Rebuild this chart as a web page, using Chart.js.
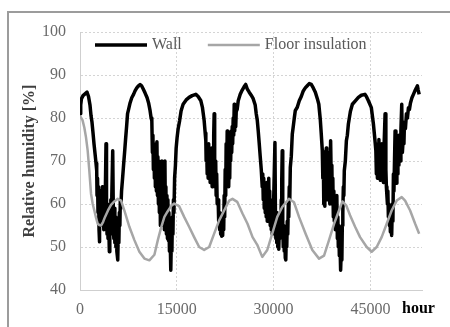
<!DOCTYPE html>
<html>
<head>
<meta charset="utf-8">
<title>Relative humidity</title>
<script src="https://cdn.jsdelivr.net/npm/chart.js@4.4.1/dist/chart.umd.min.js"></script>
<style>
  html, body { margin: 0; padding: 0; background: #fff; }
  canvas { display: block; }
</style>
</head>
<body>
<canvas id="rhChart" width="450" height="327"></canvas>
<script>
// simulated hourly relative humidity, 6 years
const wallHours = [
  0, 110, 230, 470, 780, 1090, 1320, 1550, 1710, 1860, 2020, 2170, 2330, 2480, 2590,
  2640, 2720, 2790, 2870, 2950, 2990, 3070, 3150, 3230, 3310, 3380, 3460, 3540, 3620, 3690,
  3770, 3850, 3930, 4030, 4110, 4190, 4270, 4340, 4420, 4550, 4620, 4700, 4780, 4860, 4930,
  5070, 5170, 5240, 5320, 5400, 5480, 5560, 5630, 5710, 5850, 5940, 6020, 6100, 6180, 6250,
  6330, 6440, 6600, 6750, 6910, 7060, 7220, 7370, 7530, 7760, 8020, 8300, 8530, 8800, 9080,
  9310, 9540, 9780, 10090, 10400, 10630, 10860, 11020, 11130,
  11220, 11300, 11370, 11450, 11530, 11610, 11680, 11760, 11840, 11920, 12000, 12070, 12150,
  12230, 12300, 12380, 12460, 12540, 12620, 12690, 12770, 12850, 12930, 13000, 13080, 13160,
  13240, 13310, 13390, 13470, 13550, 13620, 13700, 13780, 13860, 13930, 14070, 14170, 14240,
  14320, 14400, 14480, 14560, 14660, 14790, 14900, 15050, 15210, 15440, 15670, 15980, 16450,
  16910, 17380, 17950, 18310, 18730, 18980, 19240, 19400, 19500,
  19550, 19630, 19710, 19780, 19860, 19940, 20020, 20090, 20170, 20250, 20330, 20400, 20480,
  20560, 20640, 20720, 20790, 20870, 20950, 21030, 21100, 21180, 21260, 21410, 21490, 21570,
  21650, 21720, 21800, 21880, 21960, 22030, 22110, 22190, 22270, 22340, 22420, 22500, 22580,
  22650, 22730, 22810, 22890, 22970, 23040, 23120, 23200, 23280, 23350, 23430, 23510, 23590,
  23660, 23740, 23820, 23900, 23970, 24050, 24130, 24210, 24360, 24520, 24830, 25140, 25450,
  25680, 25910, 26220, 26530, 26840, 27150, 27310, 27470, 27620, 27780, 27930, 28090, 28240,
  28320, 28400, 28470, 28550, 28630, 28710, 28780, 28860, 28940, 29020, 29090, 29170, 29250,
  29330, 29400, 29480, 29560, 29640, 29720, 29790, 29870, 29950, 30030, 30210, 30290, 30350,
  30410, 30490, 30570, 30650, 30720, 30800, 30880, 30960, 31030, 31110, 31190, 31270, 31340,
  31420, 31500, 31580, 31650, 31730, 31810, 31890, 31960, 32040, 32120, 32200, 32280, 32350,
  32430, 32510, 32590, 32740, 32900, 33050, 33210, 33360, 33670, 33980, 34290, 34600, 34910,
  35220, 35530, 35840, 36150, 36470, 36780, 37010, 37240, 37400, 37550,
  37630, 37710, 37780, 37860, 37940, 38020, 38090, 38170, 38250, 38330, 38400, 38480, 38560,
  38640, 38710, 38840, 38950, 39030, 39100, 39180, 39260, 39340, 39410, 39490, 39570, 39650,
  39720, 39800, 39880, 39960, 40030, 40110, 40190, 40270, 40390, 40500, 40580, 40650, 40730,
  40810, 40890, 40960, 41120, 41280, 41430, 41590, 41740, 41900, 42210, 42670, 43140, 43600,
  44150, 44380, 44690, 45150, 45470, 45700, 45850,
  45930, 46010, 46090, 46160, 46240, 46320, 46400, 46470, 46550, 46630, 46710, 46780, 46860,
  46940, 47020, 47090, 47280, 47400, 47480, 47560, 47640, 47710, 47790, 47870, 47950, 48030,
  48100, 48180, 48300, 48410, 48490, 48570, 48650, 48830, 48960, 49030, 49110, 49190, 49270,
  49340, 49420, 49500, 49580, 49650, 49730, 49860, 49960, 50120, 50200, 50280, 50430, 50590,
  50740, 50900, 51050, 51210, 51440, 51670, 51900, 52140, 52290, 52410, 52560
];
const wallRH = [
  81, 83, 84.5, 85.2, 85.6, 86, 85, 83, 80.5, 79, 76.5, 74, 71.7, 69.5, 67.8,
  62, 66, 58, 64, 54, 51.2, 60, 63, 55, 61, 57, 64, 56, 62, 54,
  60, 57, 63, 74, 58, 53, 60, 52, 58, 48.9, 57, 53, 61, 55, 62,
  72.4, 57, 52, 59, 51, 57, 50, 56, 49, 47, 54, 51, 58, 55, 61,
  59, 63, 66, 69, 72, 75, 78, 81, 82, 83.5, 84.7, 85.5, 86.3, 87, 87.5,
  87.8, 87.5, 86.8, 85.8, 84.7, 83.5, 81.7, 80, 79.4,
  72, 76, 68, 74, 66, 73, 64, 72, 63, 74.5, 62, 71, 60,
  70, 58, 68, 55, 66, 58, 70, 57, 67, 55, 65, 54, 70,
  55, 64, 53, 62, 52, 61, 51.5, 58, 49, 55, 44.6, 53, 49,
  57, 53, 61, 58, 66, 69, 73, 75.5, 77.5, 79.4, 81.7, 83.2, 84.2,
  84.8, 85.2, 85.5, 85, 84, 82.4, 79.4, 76.5, 74.7,
  70, 73, 67, 72, 66, 74, 67, 72, 65, 71, 66, 73, 64,
  70, 66, 76, 81, 68, 64, 70, 62, 67, 60, 61, 56, 58,
  54, 57, 53, 56, 52.5, 55.5, 52.7, 58, 54, 62, 57, 68, 62,
  74, 66, 77, 68, 73, 64, 70, 66, 75, 70, 77, 72, 78,
  74, 80, 76, 83.2, 77, 80, 78, 81.5, 82, 84, 85.5, 86.5, 87.3,
  87.8, 86.8, 86, 85.3, 84.5, 83, 81, 79.5, 77, 74, 71, 68, 64,
  67, 61, 66, 59, 64, 58, 63, 57, 65, 56, 62, 58, 66,
  57, 63, 55, 61, 54, 60, 53, 59, 54, 62, 74.3, 57, 52,
  58, 51, 56, 50, 55, 49.5, 54, 52, 58, 53, 61, 66, 72.4,
  55, 50, 55, 49, 53, 47.5, 47, 52, 50, 56, 53, 60, 57,
  64, 61, 68.5, 71, 76.3, 78, 80, 81.7, 82.5, 84, 85, 86.3, 87,
  87.5, 88, 87.8, 87, 86, 84.5, 83.2, 79.6, 76, 72.4,
  66, 70, 60, 68, 59.5, 71, 62, 73, 64, 70, 61, 72, 63,
  69, 60, 74.7, 64, 69, 60, 66, 57, 63, 56, 61, 54, 59,
  55, 62, 52, 57, 50, 55, 48, 52, 44.6, 50, 47, 55, 58,
  64, 62, 67.8, 70, 74.7, 76, 78.6, 80, 81.5, 83.2, 84, 84.8, 85.3,
  85.5, 85, 84, 82.4, 78.6, 75, 72.4,
  67, 73, 66, 74, 68, 75, 66, 72, 65.5, 73, 67, 74, 66,
  71, 65, 72, 81, 68, 64, 62, 60, 63, 57, 60, 55, 58,
  53.5, 56, 52.7, 60, 56, 67, 63, 77, 66, 64.8, 70, 67, 73,
  69, 76, 71, 74, 70, 77, 83.2, 72, 76, 74, 79, 77.5, 81,
  80, 82.4, 82, 83.5, 84.7, 85.5, 86.3, 87, 87.5, 86.5, 85.5
];
const floorHours = [
  0, 160, 390, 670, 930, 1190, 1440, 1710, 1970, 2220, 2480, 2750, 2990, 3260, 3570,
  3880, 4340, 4810, 5320, 5850, 6360, 6870, 7650, 8430, 9200, 9980, 10750, 11530, 12060,
  12570, 13080, 13550, 14120, 14590, 15360, 16140, 16910, 17690, 18470, 19240, 20020, 20790,
  21570, 22340, 23120, 23630, 24360, 25180, 25960, 26740, 27470, 28240, 29020, 29790, 30570,
  31340, 32380, 33160, 33940, 34960, 36000, 37040, 37820, 38590, 39370, 40140, 40660, 41280,
  41850, 42630, 43400, 44430, 45200, 45980, 46750, 47530, 48300, 49080, 49860, 50380, 51160,
  51940, 52560
];
const floorRH = [
  80.5, 80.1, 79.5, 77.8, 75.5, 72.4, 67.8, 62.4, 60, 58.5, 56.8, 55.4, 55.1, 55, 55.8,
  57, 58.5, 59.8, 60.6, 61.2, 60.8, 58.5, 54.7, 51.6, 48.9, 47.3, 46.9, 48.2, 51.6,
  54.5, 57, 58.2, 59.5, 60.1, 59.5, 57, 54.7, 52.3, 50, 49.3, 50, 53.1,
  56.2, 58.5, 60.8, 61.2, 60.5, 57.8, 55.4, 52.3, 50.5, 47.7, 49.3, 53.1, 57,
  59.3, 61.2, 60.4, 57, 53.1, 49.3, 47.3, 48, 51.6, 55.4, 58.5, 60.6, 59.6,
  57.4, 54.7, 52.3, 50, 48.9, 50, 52.3, 55.4, 58.5, 60.8, 61.6, 60.8, 58.5,
  55.4, 53.1
];
const xTicks = [0, 15000, 30000, 45000];
const yTicks = [40, 50, 60, 70, 80, 90, 100];

const serif = '"Liberation Serif", "Times New Roman", serif';
Chart.defaults.font.family = serif;

function toPoints(hours, values) {
  return hours.map((h, i) => ({ x: h, y: values[i] }));
}

// outer frame of the figure (left and top edges only)
const framePlugin = {
  id: 'frame',
  beforeDraw(chart) {
    const { ctx, width, height } = chart;
    ctx.save();
    ctx.strokeStyle = '#9c9c9c';
    ctx.lineWidth = 2;
    ctx.beginPath();
    ctx.moveTo(8, height);
    ctx.lineTo(8, 12);
    ctx.lineTo(width, 12);
    ctx.stroke();
    ctx.restore();
  }
};

// legend drawn inside the plot, top left
const innerLegend = {
  id: 'innerLegend',
  afterDatasetsDraw(chart) {
    const { ctx, chartArea } = chart;
    let x = chartArea.left + 15;
    const y = chartArea.top + 13;
    ctx.save();
    ctx.font = '16px ' + serif;
    ctx.textBaseline = 'middle';
    chart.data.datasets.forEach(ds => {
      ctx.strokeStyle = ds.borderColor;
      ctx.lineWidth = ds.borderWidth;
      ctx.beginPath();
      ctx.moveTo(x, y);
      ctx.lineTo(x + 52, y);
      ctx.stroke();
      ctx.fillStyle = '#595959';
      ctx.fillText(ds.label, x + 57, y);
      x += 57 + ctx.measureText(ds.label).width + 26;
    });
    ctx.restore();
  }
};

// unit label at the end of the x axis
const hourLabel = {
  id: 'hourLabel',
  afterDraw(chart) {
    const { ctx, chartArea } = chart;
    ctx.save();
    ctx.font = 'bold 16px ' + serif;
    ctx.fillStyle = '#000';
    ctx.textBaseline = 'middle';
    ctx.fillText('hour', chartArea.right - 20, chartArea.bottom + 19);
    ctx.restore();
  }
};

const ctx = document.getElementById('rhChart').getContext('2d');
const rhChart = new Chart(ctx, {
  type: 'line',
  data: {
    datasets: [
      {
        label: 'Wall',
        data: toPoints(wallHours, wallRH),
        borderColor: '#000000',
        borderWidth: 3.5,
        borderJoinStyle: 'round',
        pointRadius: 0,
        tension: 0,
        order: 1
      },
      {
        label: 'Floor insulation',
        data: toPoints(floorHours, floorRH),
        borderColor: '#a6a6a6',
        borderWidth: 2.5,
        borderJoinStyle: 'round',
        pointRadius: 0,
        tension: 0,
        order: 0
      }
    ]
  },
  options: {
    responsive: false,
    animation: false,
    layout: { padding: { top: 32, right: 28, bottom: 0, left: 0 } },
    plugins: {
      legend: { display: false },
      tooltip: { enabled: false }
    },
    scales: {
      x: {
        type: 'linear',
        min: 0,
        max: 53000,
        afterFit: scale => { scale.height = 37; },
        afterBuildTicks: scale => { scale.ticks = xTicks.map(v => ({ value: v })); },
        grid: { color: '#d4d4d4', lineWidth: 1, drawTicks: false },
        border: { display: true, color: '#cfcfcf', width: 1, dash: [2, 2] },
        ticks: {
          padding: 10,
          color: '#6a6a6a',
          font: { size: 16 },
          maxRotation: 0,
          autoSkip: false,
          callback: v => String(v)
        }
      },
      y: {
        min: 40,
        max: 100,
        afterFit: scale => { scale.width = 80; },
        afterBuildTicks: scale => { scale.ticks = yTicks.map(v => ({ value: v })); },
        grid: { color: '#d4d4d4', lineWidth: 1, drawTicks: false },
        border: { display: true, color: '#cfcfcf', width: 1, dash: [2, 2] },
        ticks: {
          padding: 14,
          color: '#6a6a6a',
          font: { size: 16 }
        },
        title: {
          display: true,
          text: 'Relative humidity [%]',
          color: '#404040',
          font: { size: 16, weight: 'bold' },
          padding: { top: 20, bottom: 0 }
        }
      }
    }
  },
  plugins: [framePlugin, innerLegend, hourLabel]
});
</script>
</body>
</html>
